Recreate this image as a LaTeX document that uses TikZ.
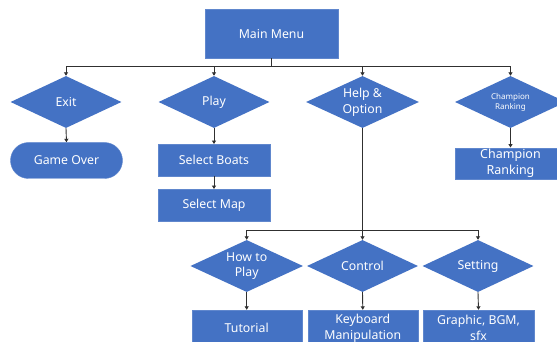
\documentclass[tikz,border=0pt]{standalone}
\usepackage{fontspec}
\setmainfont{Noto Sans}
\usetikzlibrary{shapes.geometric,arrows.meta}

\definecolor{boxblue}{HTML}{4472C4}
\definecolor{linegray}{HTML}{303030}

\tikzset{
  label font/.style={font=\fontsize{12.3}{15.8}\selectfont},
  block/.style={fill=boxblue, draw=boxblue!85!white, line width=0.4pt,
    text=white, label font, align=center,
    inner sep=0pt, minimum width=112pt},
  decision/.style={diamond, aspect=2.13, fill=boxblue, text=white,
    label font, align=center, inner sep=0pt,
    minimum width=111pt, minimum height=52pt},
  terminal/.style={block, rounded corners=18pt, minimum height=36pt},
  wire/.style={draw=linegray, line width=0.9pt},
  arrow/.style={wire, -{Triangle[length=3.5pt,width=4pt]}},
}

\begin{document}
\begin{tikzpicture}[x=1pt, y=-1pt]
  \useasboundingbox (0,0) rectangle (557,342);
  \clip (0,0) rectangle (557,342);

  % top level
  \node[block, minimum width=133pt, minimum height=49pt] (menu) at (271.5,33.7) {Main Menu};

  \node[decision] (exit)  at (66,102)  {Exit};
  \node[decision] (play)  at (214,102) {Play};
  \node[decision, aspect=2.6] (help)  at (362.5,102) {Help \&\\Option};
  \node[decision, font=\fontsize{8}{10}\selectfont] (champ) at (510.5,102) {Champion\\Ranking};

  % second level
  \node[terminal] (over) at (66.5,160.5) {Game Over};
  \node[block, minimum height=31.5pt] (boats) at (214,160) {Select Boats};
  \node[block, minimum height=31.5pt] (map)   at (214,205) {Select Map};
  \node[block, minimum width=111pt, minimum height=31.5pt,
        font=\fontsize{12.5}{15.5}\selectfont] (rank) at (510.5,163.5) {Champion\\Ranking};

  % help & option sub-menu
  \node[decision, aspect=2.6] (howto)   at (246.7,266) {How to\\Play};
  \node[decision] (control) at (362.5,266) {Control};
  \node[decision] (setting) at (478,266)   {Setting};

  \node[block, minimum width=110pt, minimum height=36pt] (tutorial) at (246.7,328) {Tutorial};
  \node[block, minimum width=110pt, minimum height=36pt] (keys)     at (362.8,328) {Keyboard\\Manipulation};
  \node[block, minimum width=111pt, minimum height=36pt] (gfx)      at (478.5,328) {Graphic, BGM,\\sfx};

  % bus below the main menu
  \coordinate (bus) at (271.5,66.7);
  \draw[wire] (menu.south) -- (bus);
  \draw[arrow] (bus) -| (exit.north);
  \draw[arrow] (bus) -| (play.north);
  \draw[arrow] (bus) -| (help.north);
  \draw[arrow] (bus) -| (champ.north);

  % direct links
  \draw[arrow] (exit.south) -- (over.north);
  \draw[arrow] (play.south) -- (boats.north);
  \draw[arrow] (boats.south) -- (map.north);
  \draw[arrow] (champ.south) -- (rank.north);

  % bus below help & option
  \coordinate (subbus) at (362.5,230.7);
  \draw[wire] (help.south) -- (subbus);
  \draw[arrow] (subbus) -| (howto.north);
  \draw[arrow] (subbus) -- (control.north);
  \draw[arrow] (subbus) -| (setting.north);

  \draw[arrow] (howto.south) -- (tutorial.north);
  \draw[arrow] (control.south) -- (keys.north);
  \draw[arrow] (setting.south) -- (gfx.north);
\end{tikzpicture}
\end{document}
